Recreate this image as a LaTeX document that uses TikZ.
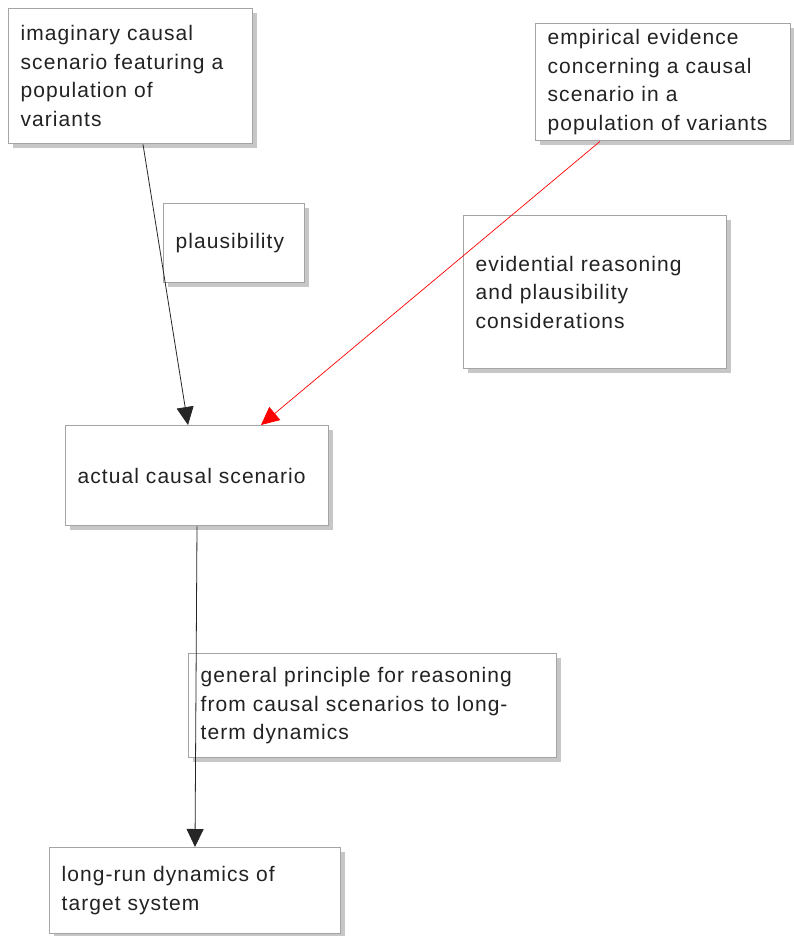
\documentclass[tikz,border=0pt]{standalone}
\usepackage{fontspec}
\setmainfont{Liberation Sans}[LetterSpace=5]
\usepackage{xcolor}
\usetikzlibrary{arrows.meta}
\usetikzlibrary{shadows}
\definecolor{boxgray}{HTML}{A4A4A4}
\definecolor{inkgray}{HTML}{222222}
\tikzset{box/.style={draw=boxgray, line width=1.4pt, fill=white, anchor=north west,
   align=left, inner xsep=12pt, inner ysep=2pt, text=inkgray,
   font=\fontsize{21}{28.5}\selectfont,
   drop shadow={shadow xshift=4pt, shadow yshift=-4pt, fill=black, opacity=0.22}},
 link/.style={draw=black!85, line width=0.8pt, -{Triangle[width=17pt,length=18pt]}},
 redlink/.style={draw=red!85, line width=0.7pt, -{Triangle[width=17pt,length=18pt]}, color=red},
 }

\begin{document}
\begin{tikzpicture}[x=1pt, y=-1pt]
    \useasboundingbox (0,0) rectangle (794,936);
    \node[box, text width=220pt, minimum height=135pt] (imag) at (8,8)
        {imaginary causal\\scenario featuring a\\population of\\variants};
    \node[box, text width=231pt, minimum height=117pt] (empir) at (535,23)
        {empirical evidence\\concerning a causal\\scenario in a\\population of variants};
    \node[box, text width=117pt, minimum height=79pt] (plaus) at (163,203)
        {plausibility};
    \node[box, text width=239pt, minimum height=153pt] (evid) at (463,215)
        {evidential reasoning\\and plausibility\\considerations};
    \node[box, text width=239pt, minimum height=100pt] (actual) at (65,425)
        {actual causal scenario};
    \node[box, text width=344pt, minimum height=104pt] (princ) at (188,653)
        {general principle for reasoning\\from causal scenarios to long-\\term dynamics};
    \node[box, text width=267pt, minimum height=86pt] (longrun) at (49,847)
        {long-run dynamics of\\target system};
    \draw[link] ([xshift=135pt]imag.south west) -- ([xshift=123pt]actual.north west);
    \draw[redlink] ([xshift=65pt]empir.south west) -- ([xshift=196pt]actual.north west);
    \draw[link] ([xshift=132pt]actual.south west) -- ([xshift=146pt]longrun.north west);
\end{tikzpicture}
\end{document}
